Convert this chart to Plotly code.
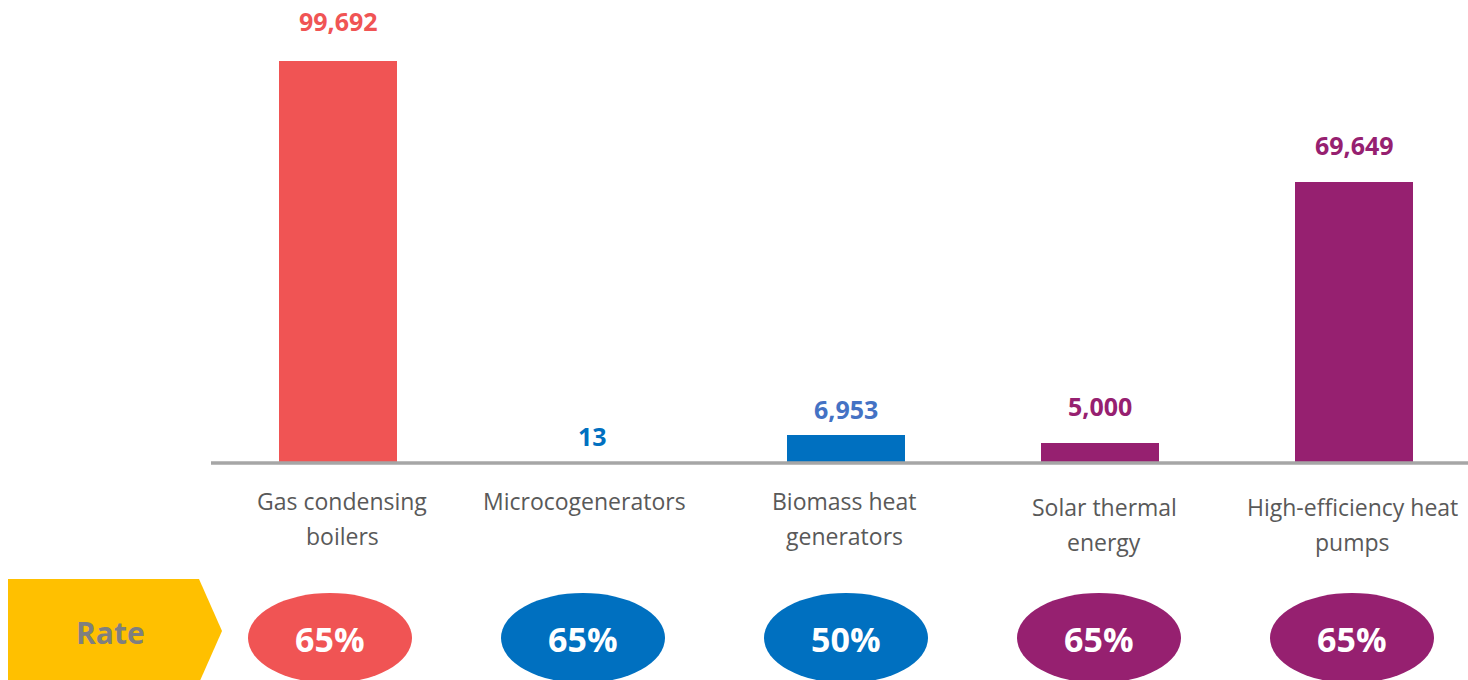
import plotly.graph_objects as go

# Data
categories = ["Gas condensing boilers", "Microcogenerators", "Biomass heat generators",
              "Solar thermal energy", "High-efficiency heat pumps"]
category_lines = [["Gas condensing", "boilers"], ["Microcogenerators"], ["Biomass heat", "generators"],
                  ["Solar thermal", "energy"], ["High-efficiency heat", "pumps"]]
values = [99692, 13, 6953, 5000, 69649]
value_labels = ["99,692", "13", "6,953", "5,000", "69,649"]
rates = ["65%", "65%", "50%", "65%", "65%"]

# Styling
bar_colors = ["#F05454", "#0070C0", "#0070C0", "#962070", "#962070"]
label_colors = ["#F05454", "#0070C0", "#4472C4", "#962070", "#962070"]
label_shift = [40, 27, 26, 37, 37]
cat_shift = [-38, -38, -38, -44, -44]
cat_dx = [4, -8, -2, 4, -2]
ellipse_dx = [-8, -9, 0, -1, -2]
LINE_GAP = 35

W, H = 1468, 680
ML, MB = 211, 217
PW, PH = W - ML, H - MB
FONT = "Open Sans"


def px(x):
    return (x - ML) / PW


def py(y):
    return (PH - y) / PH


fig = go.Figure()
fig.add_trace(go.Bar(
    x=list(range(len(categories))), y=values, width=0.465,
    marker=dict(color=bar_colors, line=dict(width=0)),
    hovertext=categories, hoverinfo="text+y",
))

annotations = []
for i, (v, t) in enumerate(zip(values, value_labels)):
    annotations.append(dict(x=i, y=v, xref="x", yref="y", text=f"<b>{t}</b>", showarrow=False,
                            yshift=label_shift[i], yanchor="middle", xanchor="center",
                            font=dict(family=FONT, size=25, color=label_colors[i])))
    for k, line in enumerate(category_lines[i]):
        annotations.append(dict(x=i, y=0, xref="x", yref="y", text=line, showarrow=False,
                                xshift=cat_dx[i], yshift=cat_shift[i] - k * LINE_GAP,
                                yanchor="middle", xanchor="center",
                                font=dict(family=FONT, size=23, color="#595959")))

shapes = []
# baseline axis
shapes.append(dict(type="line", xref="paper", yref="paper", x0=0, x1=1.02,
                   y0=py(463), y1=py(463), line=dict(color="#A6A6A6", width=3.5), layer="above"))

# rate banner
banner = [(8, 579), (199, 579), (222, 631), (199, 683), (8, 683)]
path = "M " + " L ".join(f"{px(x)},{py(y)}" for x, y in banner) + " Z"
shapes.append(dict(type="path", xref="paper", yref="paper", path=path,
                   fillcolor="#FFC000", line=dict(width=0)))
annotations.append(dict(x=px(110), y=py(632), xref="paper", yref="paper", text="<b>Rate</b>",
                        showarrow=False, xanchor="center", yanchor="middle",
                        font=dict(family=FONT, size=30, color="#7F7F7F")))

# rate ellipses
for i, r in enumerate(rates):
    shapes.append(dict(type="circle", xref="x", yref="paper", xsizemode="pixel", ysizemode="pixel",
                       xanchor=i, yanchor=py(638),
                       x0=ellipse_dx[i] - 82, x1=ellipse_dx[i] + 82, y0=-45, y1=45,
                       fillcolor=bar_colors[i], line=dict(width=0)))
    annotations.append(dict(x=i, y=py(639), xref="x", yref="paper", text=f"<b>{r}</b>",
                            xshift=ellipse_dx[i], showarrow=False,
                            xanchor="center", yanchor="middle",
                            font=dict(family=FONT, size=34, color="white")))

fig.update_layout(
    width=W, height=H,
    margin=dict(l=ML, r=0, t=0, b=MB),
    paper_bgcolor="white", plot_bgcolor="white",
    showlegend=False,
    xaxis=dict(range=[-0.5, -0.5 + PW / 254], showticklabels=False, showgrid=False,
               zeroline=False, showline=False, fixedrange=True),
    yaxis=dict(range=[0, 99692 * PH / 402], visible=False, showgrid=False, zeroline=False,
               fixedrange=True),
    shapes=shapes,
    annotations=annotations,
    bargap=0,
)

fig.write_html("out.html")
